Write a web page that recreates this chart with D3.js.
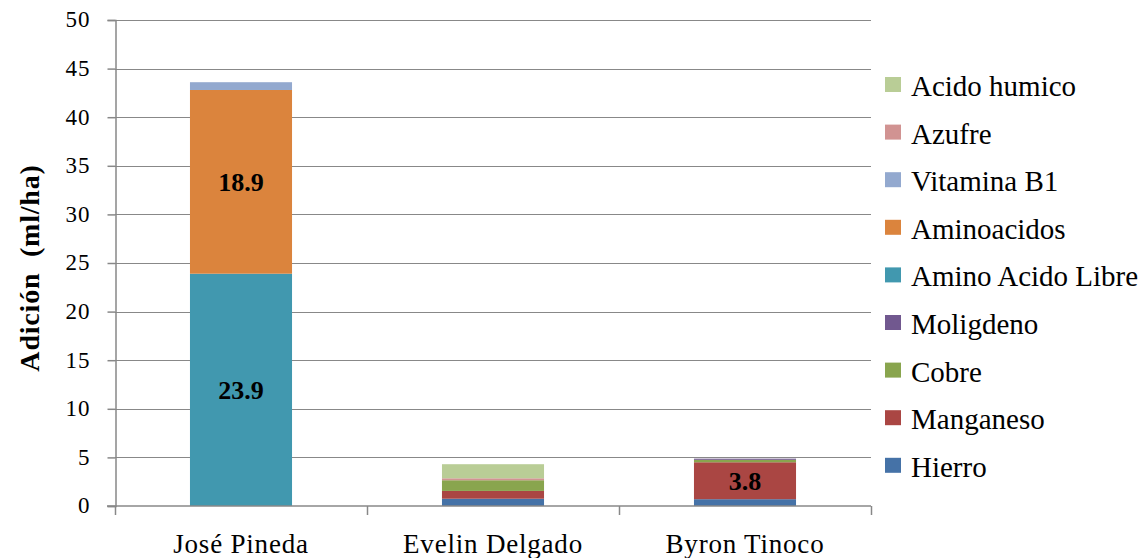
<!DOCTYPE html>
<html>
<head>
<meta charset="utf-8">
<script src="https://d3js.org/d3.v7.min.js"></script>
<style>
body{ margin:0; background:#fff; }
svg text{ font-family:"Liberation Serif", "Times New Roman", Times, serif !important; }
</style>
</head>
<body>
<script>
// productores (categorias del eje x)
var productores = ["José Pineda", "Evelin Delgado", "Byron Tinoco"];

// series, de abajo hacia arriba en la pila
var series = ["Hierro", "Manganeso", "Cobre", "Moligdeno", "Amino Acido Libre", "Aminoacidos", "Vitamina B1", "Azufre", "Acido humico"];
var colores = ["#4572A7", "#AA4643", "#89A54E", "#71588F", "#4198AF", "#DB843D", "#93A9CF", "#D19392", "#B9CD96"];

// valores por serie (ml/ha), mismo orden que productores
var hierro          = [0,    0.75, 0.7];
var manganeso       = [0,    0.8,  3.8];
var cobre           = [0,    1.1,  0.25];
var moligdeno       = [0,    0,    0.12];
var aminoAcidoLibre = [23.9, 0,    0];
var aminoacidos     = [18.9, 0,    0];
var vitaminaB1      = [0.8,  0,    0];
var azufre          = [0,    0.2,  0];
var acidoHumico     = [0,    1.45, 0];

var yTicks = [0, 5, 10, 15, 20, 25, 30, 35, 40, 45, 50];

var valores = [hierro, manganeso, cobre, moligdeno, aminoAcidoLibre, aminoacidos, vitaminaB1, azufre, acidoHumico];

// tabla para d3.stack
var tabla = productores.map(function(p, i){
  var fila = {productor: p};
  series.forEach(function(s, j){ fila[s] = valores[j][i]; });
  return fila;
});

var width = 1143, height = 558;
var margin = {left:115, right:272, top:20, bottom:52};

var svg = d3.select("body").append("svg")
  .attr("width", width)
  .attr("height", height)
  .style("display", "block");

var x = d3.scaleBand()
  .domain(productores)
  .range([margin.left, width - margin.right])
  .paddingInner(0.595)
  .paddingOuter(0.2975);

var band = d3.scaleBand()
  .domain(productores)
  .range([margin.left, width - margin.right]);

var y = d3.scaleLinear()
  .domain([0, 50])
  .range([height - margin.bottom, margin.top]);

// lineas de cuadricula
svg.append("g")
  .selectAll("line")
  .data(yTicks.slice(1))
  .enter().append("line")
  .attr("x1", margin.left)
  .attr("x2", width - margin.right)
  .attr("y1", function(d){ return Math.round(y(d)) + 0.5; })
  .attr("y2", function(d){ return Math.round(y(d)) + 0.5; })
  .attr("stroke", "#888888")
  .attr("stroke-width", 1);

var stack = d3.stack().keys(series);
var capas = stack(tabla);

var capa = svg.append("g").selectAll("g")
  .data(capas)
  .enter().append("g")
  .attr("fill", function(d, i){ return colores[i]; });

capa.selectAll("rect")
  .data(function(d){ return d; })
  .enter().append("rect")
  .attr("x", function(d){ return x(d.data.productor); })
  .attr("width", x.bandwidth())
  .attr("y", function(d){ return y(d[1]); })
  .attr("height", function(d){ return y(d[0]) - y(d[1]); });

// etiquetas de valores grandes
capa.selectAll("text")
  .data(function(d){ return d.filter(function(v){ return v[1] - v[0] >= 3; }); })
  .enter().append("text")
  .attr("x", function(d){ return x(d.data.productor) + x.bandwidth() / 2; })
  .attr("y", function(d){ return (y(d[0]) + y(d[1])) / 2; })
  .attr("dy", "0.35em")
  .attr("text-anchor", "middle")
  .attr("font-size", "26px")
  .attr("font-weight", "bold")
  .attr("fill", "#000")
  .text(function(d){ return d3.format(".1f")(d[1] - d[0]); });

// eje y
var yAxis = svg.append("g")
  .attr("transform", "translate(" + (margin.left + 0.5) + ",0)")
  .call(d3.axisLeft(y).tickValues(yTicks).tickSize(8).tickPadding(17));
yAxis.select(".domain").attr("stroke", "#888888").attr("stroke-width", 1.5);
yAxis.selectAll(".tick line").attr("stroke", "#888888").attr("stroke-width", 1.5);
yAxis.selectAll(".tick text")
  .attr("font-size", "23px")
  .attr("letter-spacing", "1px")
  .attr("dy", "0.3em")
  .attr("fill", "#000");

// eje x
var x0 = y(0);
svg.append("line")
  .attr("x1", margin.left - 8).attr("x2", width - margin.right)
  .attr("y1", x0).attr("y2", x0)
  .attr("stroke", "#888888").attr("stroke-width", 1.5);

var bordes = productores.map(function(p){ return band(p); }).concat([width - margin.right]);
svg.append("g").selectAll("line")
  .data(bordes)
  .enter().append("line")
  .attr("x1", function(d){ return d + 0.5; })
  .attr("x2", function(d){ return d + 0.5; })
  .attr("y1", x0)
  .attr("y2", x0 + 9)
  .attr("stroke", "#888888").attr("stroke-width", 1.5);

svg.append("g").selectAll("text")
  .data(productores)
  .enter().append("text")
  .attr("x", function(d){ return band(d) + band.bandwidth() / 2; })
  .attr("y", x0 + 47)
  .attr("text-anchor", "middle")
  .attr("font-size", "27px")
  .attr("letter-spacing", "0.8px")
  .attr("fill", "#000")
  .text(function(d){ return d; });

// titulo eje y
svg.append("text")
  .attr("transform", "translate(39,268) rotate(-90)")
  .attr("text-anchor", "middle")
  .attr("font-size", "28px")
  .attr("font-weight", "bold")
  .attr("letter-spacing", "0.8px")
  .attr("fill", "#000")
  .attr("xml:space", "preserve")
  .text("Adición  (ml/ha)");

// leyenda (orden inverso a la pila)
var leyenda = svg.append("g").selectAll("g")
  .data(series.slice().reverse())
  .enter().append("g")
  .attr("transform", function(d, i){ return "translate(885," + (85 + i * 47.6) + ")"; });

leyenda.append("rect")
  .attr("x", 0).attr("y", -8)
  .attr("width", 16).attr("height", 15)
  .attr("fill", function(d){ return colores[series.indexOf(d)]; });

leyenda.append("text")
  .attr("x", 26)
  .attr("y", 11)
  .attr("font-size", "29px")
  .attr("fill", "#000")
  .text(function(d){ return d; });
</script>
</body>
</html>
